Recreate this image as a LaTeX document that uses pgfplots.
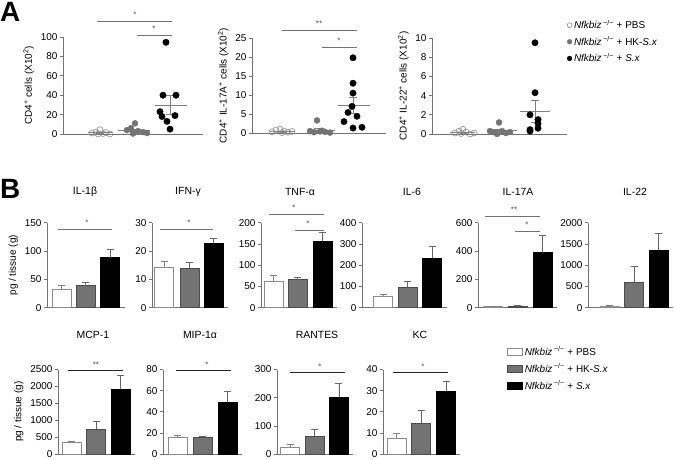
\documentclass[border=0pt]{standalone}
\usepackage{fontspec}
\setmainfont{Liberation Sans}
\usepackage{pgfplots}
\pgfplotsset{compat=1.18}

\newcommand\fs{\fontsize{10}{12}\selectfont}
\newcommand\nfk{\textit{Nfkbiz}\,\textsuperscript{−/−}}

\pgfplotsset{
  gp/.style={
    scale only axis, anchor=south west, clip=false,
    axis x line*=bottom, axis y line*=left,
    xtick=\empty, ymin=0, enlargelimits=false,
    axis line style={black!55, line width=0.6pt},
    tick align=outside, major tick length=3bp,
    ytick style={black!55, line width=0.6pt},
    tick label style={font=\fs, black},
    yticklabel style={xshift=1bp},
    label style={font=\fs, black},
    /pgf/number format/assume math mode=true,
    /pgf/number format/1000 sep={},
    scaled y ticks=false,
  },
  pbsdot/.style={only marks, mark=o, mark size=3bp, draw=black!45, line width=0.6pt},
  hkdot/.style={only marks, mark=*, mark size=3bp, draw=black!55, fill=black!55},
  sxdot/.style={only marks, mark=*, mark size=3.2bp, draw=black, fill=black},
  meanline/.style={black!50, line width=0.7pt, forget plot},
  sem/.style={draw=none, mark=none, forget plot,
    error bars/.cd, y dir=both, y explicit,
    error bar style={draw=black!50, line width=0.7pt},
    error mark options={rotate=90, draw=black!50, mark size=4bp, line width=0.7pt}},
  barbase/.style={ybar, bar shift=0pt, bar width=19bp, line width=0.6pt},
  pbsbar/.style={barbase, fill=white, draw=black!45,
    error bars/.cd, y dir=plus, y explicit,
    error bar style={black!50, line width=0.6pt},
    error mark options={rotate=90, black!50, mark size=3.5bp, line width=0.6pt}},
  hkbar/.style={barbase, fill=black!55, draw=black!70,
    error bars/.cd, y dir=plus, y explicit,
    error bar style={black!60, line width=0.6pt},
    error mark options={rotate=90, black!60, mark size=3.5bp, line width=0.6pt}},
  sxbar/.style={barbase, fill=black, draw=black,
    error bars/.cd, y dir=plus, y explicit,
    error bar style={black!60, line width=0.6pt},
    error mark options={rotate=90, black!60, mark size=3.5bp, line width=0.6pt}},
}

\begin{document}
\begin{tikzpicture}[x=1bp,y=1bp]
\useasboundingbox (0,0) rectangle (675,-460);

% ---------------- panel A ----------------
\node[anchor=north west, inner sep=0pt, font=\fontsize{28}{30}\selectfont\bfseries] at (0,-2) {A};

\begin{axis}[gp, at={(63bp,-134bp)}, width=140bp, height=97bp,
    xmin=63, xmax=203, ymax=100, ytick={0,20,...,100},
    ylabel={CD4\textsuperscript{+} cells (X10\textsuperscript{2})}]
  \addplot[pbsdot] coordinates {(92,1) (96,2) (100,4.5) (103,0.5) (106,1.5) (110,0) (98,0)};
  \addplot[hkdot] coordinates {(135,11) (127,4) (131,6) (138,3) (143,2) (147,1) (133,0.5)};
  \addplot[sxdot] coordinates {(166,94.5) (163,40) (176,40) (160,23) (162,18) (175,19) (167,13) (170,5)};
  \addplot[meanline] coordinates {(88,1.5) (112,1.5)};
  \addplot[meanline] coordinates {(118,4) (150,4)};
  \addplot[meanline] coordinates {(155,30) (187,30)};
  \addplot[sem] coordinates {(100,1.5) +- (0,0.6) (134,4) +- (0,1.3) (170,30) +- (0,10)};
\end{axis}

\begin{axis}[gp, at={(252bp,-133bp)}, width=134bp, height=95bp,
    xmin=252, xmax=386, ymax=25, ytick={0,5,...,25},
    ylabel={CD4\textsuperscript{+} IL-17A\textsuperscript{+} cells (X10\textsuperscript{2})}]
  \addplot[pbsdot] coordinates {(272,0.3) (276,0.8) (280,1.0) (284,0.5) (288,0.2) (292,0.4) (282,0.1)};
  \addplot[hkdot] coordinates {(317,3.3) (310,0.5) (314,0.2) (320,0.4) (325,0.3) (330,0.1) (322,0.6)};
  \addplot[sxdot] coordinates {(353,19.8) (353,13.1) (353,10.5) (352,7.0) (348,5.4) (357,4.4) (344,3.0) (353,1.3) (362,1.5)};
  \addplot[meanline] coordinates {(270,0.4) (295,0.4)};
  \addplot[meanline] coordinates {(308,0.8) (335,0.8)};
  \addplot[meanline] coordinates {(338,7.3) (370,7.3)};
  \addplot[sem] coordinates {(282,0.4) +- (0,0.12) (318,0.8) +- (0,0.4) (353,7.3) +- (0,2.0)};
\end{axis}

\begin{axis}[gp, at={(432bp,-134bp)}, width=135bp, height=96bp,
    xmin=432, xmax=567, ymax=10, ytick={0,2,...,10},
    ylabel={CD4\textsuperscript{+} IL-22\textsuperscript{+} cells (X10\textsuperscript{2})},
    legend style={at={(rel axis cs:1.0,1.21)}, anchor=north west, draw=none, fill=none,
      font=\fs, inner sep=0pt, row sep=2.5bp, cells={anchor=west}},
    legend image code/.code={\draw[mark size=2.4bp] plot coordinates {(3bp,0bp)};}]
  \addplot[pbsdot] coordinates {(455,0.1) (459,0.3) (463,0.5) (466,0.2) (470,0.0) (474,0.1) (461,0.05)};
  \addplot[hkdot] coordinates {(499,1.2) (490,0.3) (494,0.2) (502,0.3) (506,0.1) (510,0.2) (497,0.0)};
  \addplot[sxdot] coordinates {(535,9.5) (535,4.3) (530,2.0) (538,1.5) (538,1.1) (538,0.6) (530,0.3) (530,0.45)};
  \legend{\nfk{} + PBS, \nfk{} + HK-\textit{S.x}, \nfk{} + \textit{S.x}}
  \addplot[meanline] coordinates {(450,0.15) (475,0.15)};
  \addplot[meanline] coordinates {(487,0.33) (517,0.33)};
  \addplot[meanline] coordinates {(520,2.4) (550,2.4)};
  \addplot[sem] coordinates {(464,0.15) +- (0,0.06) (499,0.33) +- (0,0.15) (535,2.4) +- (0,1.15)};
\end{axis}

\begin{scope}[black!55, line width=0.7pt]
  \draw (97,-21) -- (172,-21);  \draw (137,-35) -- (172,-35);
  \draw (282,-30) -- (357,-30); \draw (322,-47) -- (357,-47);
\end{scope}
\begin{scope}[every node/.style={anchor=base, inner sep=0pt, font=\fontsize{8}{9}\selectfont, black!70}]
  \node at (135,-18) {*};  \node at (154,-32) {*};
  \node at (319,-27) {**}; \node at (339,-44) {*};
\end{scope}

% ---------------- panel B ----------------
\node[anchor=north west, inner sep=0pt, font=\fontsize{28}{30}\selectfont\bfseries] at (0,-179) {B};

\begin{scope}[every node/.style={inner sep=0pt, font=\fontsize{10.5}{12}\selectfont}]
  \node at (85,-192) {IL-1β};   \node at (188,-192) {IFN-γ};
  \node at (300,-192) {TNF-α};  \node at (412,-192) {IL-6};
  \node at (518,-192) {IL-17A}; \node at (635,-192) {IL-22};
  \node at (93,-335) {MCP-1};   \node at (200,-335) {MIP-1α};
  \node at (317,-335) {RANTES}; \node at (420,-335) {KC};
\end{scope}

% row 1
\begin{axis}[gp, at={(47bp,-307.7bp)}, width=77.5bp, height=85bp,
    xmin=47, xmax=124.5, ymax=150, ytick={0,50,100,150}, ylabel={pg / tissue (g)}]
  \addplot[pbsbar] coordinates {(61.5,32.5) +- (0,6.3)};
  \addplot[hkbar] coordinates {(85.5,38.8) +- (0,5.2)};
  \addplot[sxbar] coordinates {(110,88.2) +- (0,14.8)};
\end{axis}

\begin{axis}[gp, at={(152bp,-307.7bp)}, width=76bp, height=85bp,
    xmin=152, xmax=228, ymax=30, ytick={0,10,20,30}]
  \addplot[pbsbar] coordinates {(164,14.3) +- (0,2.2)};
  \addplot[hkbar] coordinates {(189.5,13.9) +- (0,2.1)};
  \addplot[sxbar] coordinates {(213.5,22.7) +- (0,1.8)};
\end{axis}

\begin{axis}[gp, at={(261bp,-307.7bp)}, width=76bp, height=85bp,
    xmin=261, xmax=337, ymax=200, ytick={0,50,...,200}]
  \addplot[pbsbar] coordinates {(273.5,63) +- (0,14)};
  \addplot[hkbar] coordinates {(297.5,66) +- (0,6)};
  \addplot[sxbar] coordinates {(322.5,157) +- (0,20)};
\end{axis}

\begin{axis}[gp, at={(362bp,-307.7bp)}, width=84.5bp, height=85bp,
    xmin=362, xmax=446.5, ymax=400, ytick={0,100,...,400}]
  \addplot[pbsbar] coordinates {(383,55) +- (0,8)};
  \addplot[hkbar] coordinates {(407.5,97) +- (0,29)};
  \addplot[sxbar] coordinates {(432,232) +- (0,58)};
\end{axis}

\begin{axis}[gp, at={(478bp,-307.7bp)}, width=79bp, height=85bp,
    xmin=478, xmax=557, ymax=600, ytick={0,200,400,600}]
  \addplot[pbsbar] coordinates {(493,8) +- (0,3)};
  \addplot[hkbar] coordinates {(517.5,10) +- (0,4)};
  \addplot[sxbar] coordinates {(542.5,388) +- (0,125)};
\end{axis}

\begin{axis}[gp, at={(588bp,-307.7bp)}, width=85bp, height=85bp,
    xmin=588, xmax=673, ymax=2000, ytick={0,500,...,2000}]
  \addplot[pbsbar] coordinates {(609.5,30) +- (0,20)};
  \addplot[hkbar] coordinates {(634,598) +- (0,383)};
  \addplot[sxbar] coordinates {(658.5,1358) +- (0,392)};
\end{axis}

% row 2
\begin{axis}[gp, at={(58bp,-454bp)}, width=77bp, height=84.5bp,
    xmin=58, xmax=135, ymax=2500, ytick={0,500,...,2500}, ylabel={pg / tissue (g)}]
  \addplot[pbsbar] coordinates {(71.3,336) +- (0,51)};
  \addplot[hkbar] coordinates {(96,735) +- (0,226)};
  \addplot[sxbar] coordinates {(120.5,1925) +- (0,396)};
\end{axis}

\begin{axis}[gp, at={(163bp,-454bp)}, width=79bp, height=84.5bp,
    xmin=163, xmax=242, ymax=80, ytick={0,20,...,80}]
  \addplot[pbsbar] coordinates {(177.5,15.4) +- (0,2.5)};
  \addplot[hkbar] coordinates {(202.5,16.2) +- (0,0.8)};
  \addplot[sxbar] coordinates {(227.5,48.8) +- (0,11)};
\end{axis}

\begin{axis}[gp, at={(277bp,-454bp)}, width=76bp, height=84.5bp,
    xmin=277, xmax=353, ymax=300, ytick={0,100,200,300}]
  \addplot[pbsbar] coordinates {(290,23.6) +- (0,10.4)};
  \addplot[hkbar] coordinates {(314.5,63.8) +- (0,24.7)};
  \addplot[sxbar] coordinates {(338.8,200.8) +- (0,49.2)};
\end{axis}

\begin{axis}[gp, at={(383bp,-454bp)}, width=77bp, height=84.5bp,
    xmin=383, xmax=460, ymax=40, ytick={0,10,...,40},
    legend style={at={(rel axis cs:1.61,1.30)}, anchor=north west, draw=none, fill=none,
      font=\fs, inner sep=0pt, row sep=3bp, cells={anchor=west}},
    legend image code/.code={\draw (0bp,-3.5bp) rectangle (15bp,3.5bp);}]
  \addplot[pbsbar] coordinates {(396.7,7.6) +- (0,2.2)};
  \addplot[hkbar] coordinates {(421,14.5) +- (0,6.3)};
  \addplot[sxbar] coordinates {(446,29.6) +- (0,4.8)};
  \legend{\nfk{} + PBS, \nfk{} + HK-\textit{S.x}, \nfk{} + \textit{S.x}}
\end{axis}

% significance bars, panel B
\begin{scope}[black!55, line width=0.7pt]
  \draw (57.7,-229.3) -- (112.3,-229.3);
  \draw (160,-229) -- (213,-229);
  \draw (269,-214) -- (324,-214); \draw (295,-230) -- (324,-230);
  \draw (485,-216) -- (540,-216); \draw (515,-231) -- (540,-231);
\end{scope}
\begin{scope}[black!85, line width=0.7pt]
  \draw (68,-370) -- (123,-370);
  \draw (176,-370) -- (231,-370);
  \draw (290,-372) -- (345,-372);
  \draw (393,-372) -- (448,-372);
\end{scope}
\begin{scope}[every node/.style={anchor=base, inner sep=0pt, font=\fontsize{8}{9}\selectfont, black!70}]
  \node at (87,-226) {*};
  \node at (189,-226) {*};
  \node at (294,-211) {*};  \node at (308,-227) {*};
  \node at (514,-213) {**}; \node at (527,-228) {*};
  \node at (96,-367) {**};
  \node at (207,-367) {*};
  \node at (320,-369) {*};
  \node at (423,-369) {*};
\end{scope}
\end{tikzpicture}
\end{document}
